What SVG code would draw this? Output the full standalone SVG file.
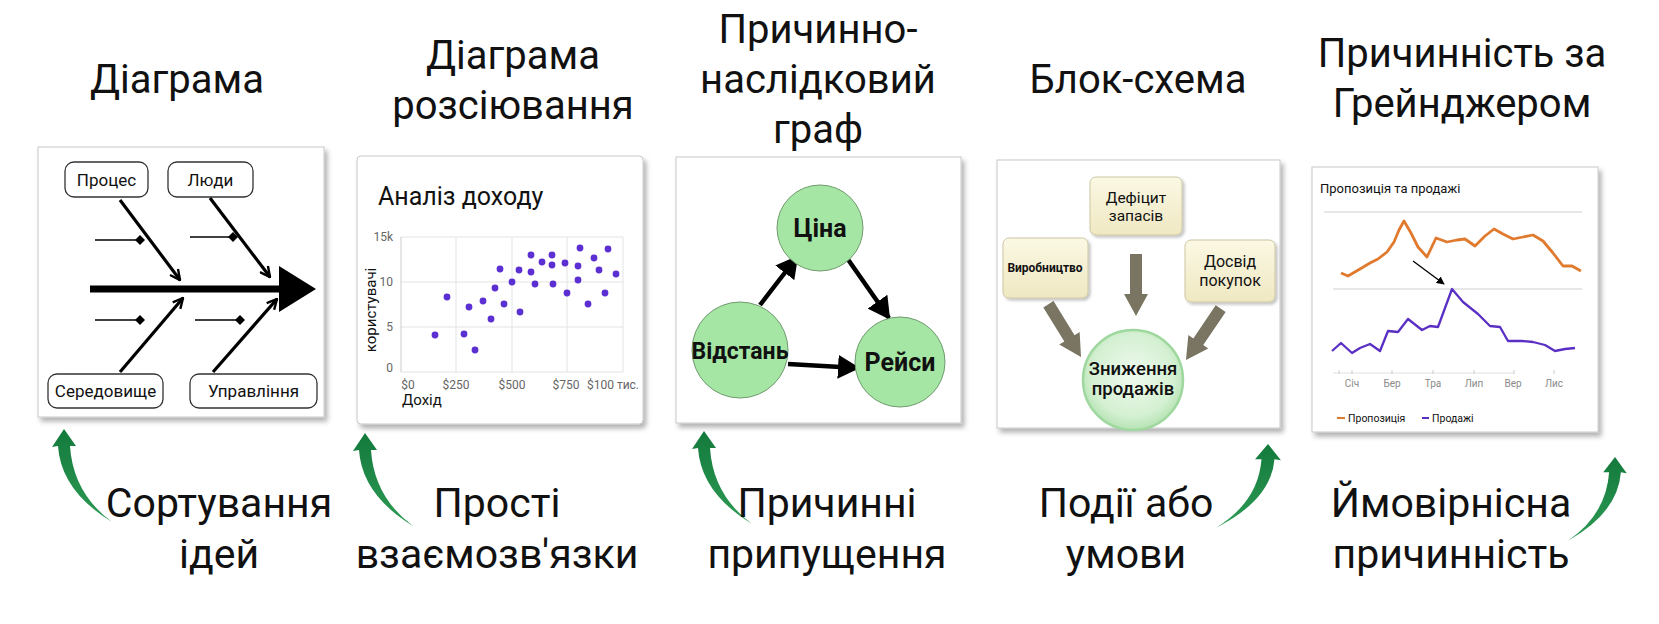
<svg xmlns="http://www.w3.org/2000/svg" width="1659" height="624" viewBox="0 0 1659 624">
<style>
.h{font-family:Roboto,"Liberation Sans",sans-serif;font-size:40px;fill:#111;text-anchor:middle}
.b{font-family:Roboto,"Liberation Sans",sans-serif;font-size:41px;fill:#111;text-anchor:middle}
.panel{fill:#fff;stroke:#c8c8c8;stroke-width:1;filter:url(#sh)}
.lbl{fill:#fff;stroke:#333;stroke-width:1.3}
.t{font-family:Roboto,"Liberation Sans",sans-serif;fill:#111}
.bone{stroke:#000;stroke-width:3.2;fill:none}
.rib{stroke:#000;stroke-width:1.5;marker-end:url(#dia)}
.ax{font-family:Roboto,"Liberation Sans",sans-serif;font-size:12px;fill:#666}
.grid{stroke:#e3e3e3;stroke-width:1}
.dot{fill:#5b2fd2}
.node{fill:#a6e6a4;stroke:#6f9a6f;stroke-width:1}
.edge{stroke:#000;stroke-width:4.5;marker-end:url(#tri)}
.box{fill:url(#cream);stroke:#cdc6a3;stroke-width:1;filter:url(#sh2)}
.fat{fill:#7a7462}
.ga{fill:url(#gg)}
.mo{font-family:Roboto,"Liberation Sans",sans-serif;font-size:10px;fill:#8a8a8a;text-anchor:middle}
</style>
<defs>
<filter id="sh" x="-5%" y="-5%" width="115%" height="115%"><feDropShadow dx="3" dy="4" stdDeviation="2.5" flood-color="#000" flood-opacity="0.3"/></filter>
<filter id="sh2" x="-10%" y="-10%" width="130%" height="130%"><feDropShadow dx="2" dy="2" stdDeviation="1.5" flood-color="#000" flood-opacity="0.25"/></filter>
<marker id="chev" viewBox="0 0 12 12" refX="11" refY="6" markerWidth="12" markerHeight="12" markerUnits="userSpaceOnUse" orient="auto"><path d="M1,1 L11,6 L1,11" fill="none" stroke="#000" stroke-width="2.4"/></marker>
<marker id="dia" viewBox="0 0 10 10" refX="5" refY="5" markerWidth="10" markerHeight="10" markerUnits="userSpaceOnUse" orient="auto"><path d="M0,5 L5,0 L10,5 L5,10 Z" fill="#000"/></marker>
<marker id="tri" viewBox="0 0 22 24" refX="20" refY="12" markerWidth="22" markerHeight="24" markerUnits="userSpaceOnUse" orient="auto"><path d="M0,0 L22,12 L0,24 Z" fill="#000"/></marker>
<marker id="sm" viewBox="0 0 10 10" refX="9" refY="5" markerWidth="8" markerHeight="8" markerUnits="userSpaceOnUse" orient="auto"><path d="M0,0 L10,5 L0,10 Z" fill="#000"/></marker>
<linearGradient id="cream" x1="0" y1="0" x2="0" y2="1"><stop offset="0" stop-color="#fbf8e4"/><stop offset="1" stop-color="#efe8c2"/></linearGradient>
<radialGradient id="cg" cx="0.5" cy="0.45" r="0.55"><stop offset="0" stop-color="#f0faef"/><stop offset="0.75" stop-color="#d4f0d2"/><stop offset="1" stop-color="#b5e3b3"/></radialGradient>
<linearGradient id="gg" x1="0" y1="1" x2="0" y2="0"><stop offset="0" stop-color="#2e9a55"/><stop offset="1" stop-color="#137a3c"/></linearGradient>
<path id="fa" d="M-6,-62 L6,-62 L6,-22 L12,-22 L0,0 L-12,-22 L-6,-22 Z"/>
<path id="gar" d="M48,93 Q-3,62 -6,17 L-12,18 L0,0 L12,17 L6,17 Q9,64 48,93 Z"/>
</defs>
<rect width="1659" height="624" fill="#fff"/>

<g id="headings">
<text class="h" x="177" y="93">Діаграма</text>
<text class="h" x="513" y="69">Діаграма</text>
<text class="h" x="513" y="119">розсіювання</text>
<text class="h" x="818" y="43">Причинно-</text>
<text class="h" x="818" y="93">наслідковий</text>
<text class="h" x="818" y="143">граф</text>
<text class="h" x="1138" y="93">Блок-схема</text>
<text class="h" x="1462" y="67">Причинність за</text>
<text class="h" x="1462" y="117">Грейнджером</text>
</g>

<g id="fishbone">
<rect class="panel" x="38" y="147" width="286" height="270"/>
<rect class="lbl" x="65" y="162" width="83" height="35" rx="9"/>
<text class="t" x="106.5" y="185.5" font-size="17" text-anchor="middle">Процес</text>
<rect class="lbl" x="168" y="162" width="85" height="35" rx="9"/>
<text class="t" x="210.5" y="185.5" font-size="17" text-anchor="middle">Люди</text>
<rect class="lbl" x="48" y="374" width="115" height="34" rx="9"/>
<text class="t" x="105.5" y="397" font-size="17" text-anchor="middle">Середовище</text>
<rect class="lbl" x="190" y="374" width="127" height="34" rx="9"/>
<text class="t" x="253.5" y="397" font-size="17" text-anchor="middle">Управління</text>
<line x1="90" y1="289" x2="282" y2="289" stroke="#000" stroke-width="7"/>
<polygon points="279,266 279,312 316,289" fill="#000"/>
<line class="bone" x1="120" y1="200" x2="180" y2="280" marker-end="url(#chev)"/>
<line class="bone" x1="210" y1="198" x2="270" y2="277" marker-end="url(#chev)"/>
<line class="bone" x1="120" y1="372" x2="183" y2="298" marker-end="url(#chev)"/>
<line class="bone" x1="213" y1="372" x2="277" y2="299" marker-end="url(#chev)"/>
<line class="rib" x1="95" y1="240" x2="140" y2="240"/>
<line class="rib" x1="190" y1="237" x2="233" y2="237"/>
<line class="rib" x1="95" y1="320" x2="140" y2="320"/>
<line class="rib" x1="195" y1="320" x2="240" y2="320"/>
</g>

<g id="scatter">
<rect class="panel" x="357" y="156" width="286" height="268" rx="4"/>
<text class="t" x="378" y="205" font-size="25" fill="#222">Аналіз доходу</text>
<line class="grid" x1="401" y1="237" x2="623" y2="237"/>
<line class="grid" x1="401" y1="282" x2="623" y2="282"/>
<line class="grid" x1="401" y1="327" x2="623" y2="327"/>
<line class="grid" x1="401" y1="372" x2="623" y2="372"/>
<line class="grid" x1="456" y1="237" x2="456" y2="372"/>
<line class="grid" x1="512" y1="237" x2="512" y2="372"/>
<line class="grid" x1="567" y1="237" x2="567" y2="372"/>
<line class="grid" x1="623" y1="237" x2="623" y2="372"/>
<line x1="401" y1="237" x2="401" y2="372" stroke="#ccc"/>
<text class="ax" x="393" y="241" text-anchor="end">15k</text>
<text class="ax" x="393" y="286" text-anchor="end">10</text>
<text class="ax" x="393" y="331" text-anchor="end">5</text>
<text class="ax" x="393" y="372" text-anchor="end">0</text>
<text class="ax" x="408" y="389" text-anchor="middle" font-size="11">$0</text>
<text class="ax" x="456" y="389" text-anchor="middle" font-size="11">$250</text>
<text class="ax" x="512" y="389" text-anchor="middle" font-size="11">$500</text>
<text class="ax" x="566" y="389" text-anchor="middle" font-size="11">$750</text>
<text class="ax" x="613" y="389" text-anchor="middle" font-size="11">$100 тис.</text>
<text class="t" x="402" y="405" font-size="15">Дохід</text>
<text class="t" x="0" y="0" font-size="15" text-anchor="middle" transform="translate(376,310) rotate(-90)">користувачі</text>
<g class="dot">
<circle cx="435" cy="335" r="3.4"/><circle cx="447" cy="297" r="3.4"/><circle cx="464" cy="334" r="3.4"/>
<circle cx="469" cy="307" r="3.4"/><circle cx="475" cy="350" r="3.4"/><circle cx="483" cy="301" r="3.4"/>
<circle cx="491" cy="319" r="3.4"/><circle cx="495" cy="288" r="3.4"/><circle cx="500" cy="269" r="3.4"/>
<circle cx="504" cy="304" r="3.4"/><circle cx="512" cy="282" r="3.4"/><circle cx="520" cy="312" r="3.4"/>
<circle cx="519" cy="270" r="3.4"/><circle cx="531" cy="255" r="3.4"/><circle cx="531" cy="272" r="3.4"/>
<circle cx="535" cy="284" r="3.4"/><circle cx="542" cy="262" r="3.4"/><circle cx="552" cy="255" r="3.4"/>
<circle cx="552" cy="265" r="3.4"/><circle cx="553" cy="284" r="3.4"/><circle cx="565" cy="263" r="3.4"/>
<circle cx="567" cy="293" r="3.4"/><circle cx="578" cy="280" r="3.4"/><circle cx="578" cy="266" r="3.4"/>
<circle cx="580" cy="248" r="3.4"/><circle cx="588" cy="304" r="3.4"/><circle cx="594" cy="258" r="3.4"/>
<circle cx="599" cy="270" r="3.4"/><circle cx="605" cy="293" r="3.4"/><circle cx="608" cy="249" r="3.4"/>
<circle cx="616" cy="274" r="3.4"/>
</g>
</g>

<g id="causal-graph">
<rect class="panel" x="676" y="157" width="285" height="266"/>
<g id="edges-causal">
<line class="edge" x1="760" y1="305" x2="797" y2="257"/>
<line class="edge" x1="847" y1="258" x2="889" y2="318"/>
<line class="edge" x1="788" y1="364" x2="858" y2="368"/>
</g>
<g id="node-tsina"><circle class="node" cx="820" cy="228" r="43"/><text class="t" x="820" y="237" font-size="25" font-weight="bold" text-anchor="middle">Ціна</text></g>
<g id="node-vidstan"><circle class="node" cx="740" cy="350" r="48"/><text class="t" x="740" y="359" font-size="23" font-weight="bold" text-anchor="middle">Відстань</text></g>
<g id="node-reisy"><circle class="node" cx="900" cy="362" r="45"/><text class="t" x="900" y="371" font-size="25" font-weight="bold" text-anchor="middle">Рейси</text></g>
</g>

<g id="flowchart">
<rect class="panel" x="997" y="160" width="283" height="268"/>
<g id="fc-arrows">
<use href="#fa" class="fat" transform="translate(1136,316)"/>
<use href="#fa" class="fat" transform="translate(1081,357) rotate(-31.7)"/>
<use href="#fa" class="fat" transform="translate(1186,360) rotate(34)"/>
</g>
<g id="box-deficit"><rect class="box" x="1090" y="177" width="92" height="58" rx="6"/>
<text class="t" x="1136" y="203" font-size="15.5" text-anchor="middle">Дефіцит</text>
<text class="t" x="1136" y="221" font-size="15.5" text-anchor="middle">запасів</text></g>
<g id="box-vyrob"><rect class="box" x="1003" y="238" width="85" height="60" rx="6"/>
<text class="t" x="1045" y="272" font-size="12" font-weight="bold" text-anchor="middle">Виробництво</text></g>
<g id="box-dosvid"><rect class="box" x="1185" y="240" width="90" height="62" rx="6"/>
<text class="t" x="1230" y="267" font-size="16" text-anchor="middle">Досвід</text>
<text class="t" x="1230" y="286" font-size="16" text-anchor="middle">покупок</text></g>
<g id="node-znyzh"><circle cx="1133" cy="380" r="50" fill="url(#cg)" stroke="#9fd89f" stroke-width="2.5"/>
<text class="t" x="1133" y="375" font-size="18.5" font-weight="500" text-anchor="middle">Зниження</text>
<text class="t" x="1133" y="395" font-size="18.5" font-weight="500" text-anchor="middle">продажів</text></g>
</g>

<g id="granger">
<rect class="panel" x="1312" y="167" width="286" height="265"/>
<text class="t" x="1320" y="193" font-size="13" fill="#333">Пропозиція та продажі</text>
<line x1="1324" y1="212" x2="1582" y2="212" stroke="#d0d0d0" stroke-width="1.2"/>
<line x1="1333" y1="289" x2="1582" y2="289" stroke="#d0d0d0" stroke-width="1.2"/>
<line x1="1333" y1="373" x2="1514" y2="373" stroke="#e0e0e0" stroke-width="1"/>
<g stroke="#ccc" stroke-width="1">
<line x1="1339" y1="370" x2="1339" y2="374"/><line x1="1352" y1="370" x2="1352" y2="374"/><line x1="1392" y1="370" x2="1392" y2="374"/>
<line x1="1433" y1="370" x2="1433" y2="374"/><line x1="1474" y1="370" x2="1474" y2="374"/><line x1="1514" y1="370" x2="1514" y2="374"/>
<line x1="1554" y1="370" x2="1554" y2="374"/>
</g>
<text class="mo" x="1352" y="387">Січ</text><text class="mo" x="1392" y="387">Бер</text><text class="mo" x="1433" y="387">Тра</text>
<text class="mo" x="1474" y="387">Лип</text><text class="mo" x="1513" y="387">Вер</text><text class="mo" x="1554" y="387">Лис</text>
<polyline fill="none" stroke="#e07a2e" stroke-width="2.8" stroke-linejoin="round" points="1341,273 1348,276 1360,269 1370,263 1378,259 1387,252 1394,242 1399,230 1404,221 1411,233 1418,247 1427,257 1436,238 1447,242 1457,240 1465,239 1475,246 1485,236 1494,229 1503,234 1513,239 1523,237 1533,235 1543,241 1553,253 1563,266 1572,266 1581,271"/>
<polyline fill="none" stroke="#5a2fc4" stroke-width="2.3" stroke-linejoin="round" points="1332,351 1341,343 1352,353 1360,348 1370,344 1380,351 1388,331 1398,332 1408,319 1422,330 1430,326 1438,327 1452,289 1463,302 1478,314 1490,326 1500,327 1508,341 1522,341 1533,342 1545,345 1555,351 1565,349 1575,348"/>
<line x1="1413" y1="261" x2="1444" y2="284" stroke="#000" stroke-width="1.3" marker-end="url(#sm)"/>
<line x1="1337" y1="418" x2="1345" y2="418" stroke="#e07a2e" stroke-width="2"/>
<text class="t" x="1348" y="422" font-size="10.5" fill="#555">Пропозиція</text>
<line x1="1422" y1="418" x2="1429" y2="418" stroke="#5a2fc4" stroke-width="2"/>
<text class="t" x="1432" y="422" font-size="10.5" fill="#555">Продажі</text>
</g>

<g id="green-arrows">
<use href="#gar" class="ga" transform="translate(64,429)"/>
<use href="#gar" class="ga" transform="translate(365,433)"/>
<use href="#gar" class="ga" transform="translate(704,431)"/>
<use href="#gar" class="ga" transform="translate(1268,444) scale(-1.08,0.9)"/>
<use href="#gar" class="ga" transform="translate(1615,457) scale(-0.98,0.9)"/>
</g>

<g id="bottom-labels">
<text class="b" x="219" y="517">Сортування</text>
<text class="b" x="219" y="568">ідей</text>
<text class="b" x="497" y="517">Прості</text>
<text class="b" x="497" y="568">взаємозв'язки</text>
<text class="b" x="827" y="517">Причинні</text>
<text class="b" x="827" y="568">припущення</text>
<text class="b" x="1126" y="517">Події або</text>
<text class="b" x="1126" y="568">умови</text>
<text class="b" x="1451" y="517">Ймовірнісна</text>
<text class="b" x="1451" y="568">причинність</text>
</g>
</svg>
